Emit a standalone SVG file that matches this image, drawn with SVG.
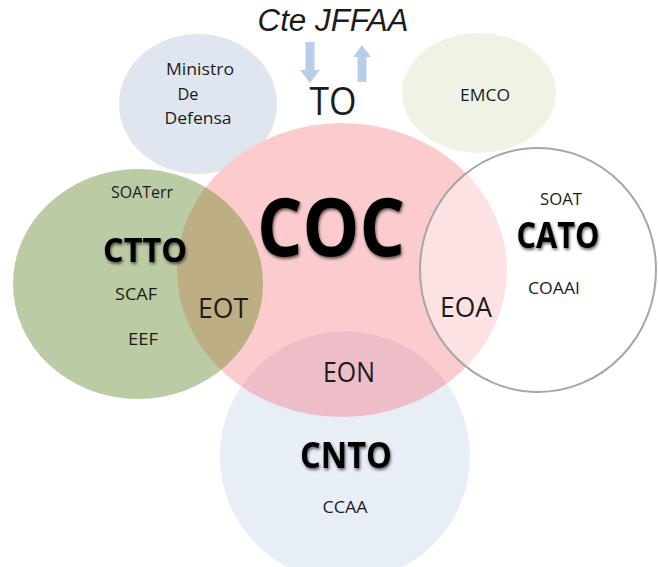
<svg xmlns="http://www.w3.org/2000/svg" xmlns:xlink="http://www.w3.org/1999/xlink" width="658" height="567" viewBox="0 0 658 567">
  <style>
    .t { font-family: "Open Sans", "Liberation Sans", sans-serif; fill: #1c1c1c; text-anchor: middle; }
    .s { font-size: 16px; }
    .m { font-size: 28px; }
    .b { font-weight: bold; fill: #000; filter: url(#shadow); }
    .arrow { fill: #b9cde9; }
  </style>
  <defs>
    <filter id="shadow" x="-20%" y="-30%" width="140%" height="160%">
      <feGaussianBlur in="SourceAlpha" stdDeviation="1.6" result="blur"/>
      <feOffset in="blur" dx="1" dy="1.5" result="off"/>
      <feComponentTransfer in="off" result="sh"><feFuncA type="linear" slope="0.6"/></feComponentTransfer>
      <feMerge><feMergeNode in="sh"/><feMergeNode in="SourceGraphic"/></feMerge>
    </filter>
    <ellipse id="cocE" cx="342" cy="270" rx="165" ry="147"/>
    <clipPath id="clipCtto"><ellipse cx="138" cy="284" rx="125" ry="115"/></clipPath>
    <clipPath id="clipCnto"><ellipse cx="345" cy="456" rx="125" ry="125"/></clipPath>
  </defs>

  <rect x="0" y="0" width="658" height="567" fill="#ffffff"/>

  <g id="node-ministro">
    <ellipse cx="198" cy="104" rx="79" ry="70" fill="#dfe6f0"/>
    <text class="t s" x="200" y="75" textLength="68" lengthAdjust="spacingAndGlyphs">Ministro</text>
    <text class="t s" x="188" y="100" textLength="21" lengthAdjust="spacingAndGlyphs">De</text>
    <text class="t s" x="198" y="124" textLength="67" lengthAdjust="spacingAndGlyphs">Defensa</text>
  </g>

  <g id="node-emco">
    <ellipse cx="479" cy="93" rx="77" ry="60" fill="#eff3e6"/>
    <text class="t s" x="485" y="101" textLength="50" lengthAdjust="spacingAndGlyphs">EMCO</text>
  </g>

  <g id="node-coc">
    <use xlink:href="#cocE" href="#cocE" fill="#fbcbcd"/>
    <text class="t b" x="331" y="256" font-size="80" textLength="148" lengthAdjust="spacingAndGlyphs">COC</text>
  </g>

  <g id="node-ctto">
    <ellipse cx="138" cy="284" rx="125" ry="115" fill="#bbcba4"/>
    <use xlink:href="#cocE" href="#cocE" fill="#beae84" clip-path="url(#clipCtto)"/>
    <text class="t s" x="142" y="198" textLength="62" lengthAdjust="spacingAndGlyphs">SOATerr</text>
    <text class="t b" x="145" y="262" font-size="34" textLength="84" lengthAdjust="spacingAndGlyphs">CTTO</text>
    <text class="t s" x="136" y="300" textLength="42" lengthAdjust="spacingAndGlyphs">SCAF</text>
    <text class="t s" x="143" y="345" textLength="30" lengthAdjust="spacingAndGlyphs">EEF</text>
    <text class="t m" x="223" y="318" textLength="50" lengthAdjust="spacingAndGlyphs">EOT</text>
  </g>

  <g id="node-cnto">
    <ellipse cx="345" cy="456" rx="125" ry="125" fill="#e8eef6"/>
    <use xlink:href="#cocE" href="#cocE" fill="#edbec8" clip-path="url(#clipCnto)"/>
    <text class="t m" x="349" y="382" textLength="52" lengthAdjust="spacingAndGlyphs">EON</text>
    <text class="t b" x="346" y="468" font-size="36" textLength="92" lengthAdjust="spacingAndGlyphs">CNTO</text>
    <text class="t s" x="345" y="513" textLength="45" lengthAdjust="spacingAndGlyphs">CCAA</text>
  </g>

  <g id="node-cato">
    <ellipse cx="538" cy="270" rx="118" ry="122" fill="#ffffff" fill-opacity="0.45" stroke="#a6a6a6" stroke-width="2"/>
    <text class="t s" x="561" y="205" textLength="42" lengthAdjust="spacingAndGlyphs">SOAT</text>
    <text class="t b" x="558" y="248" font-size="35" textLength="83" lengthAdjust="spacingAndGlyphs">CATO</text>
    <text class="t s" x="554" y="294" textLength="52" lengthAdjust="spacingAndGlyphs">COAAI</text>
    <text class="t m" x="466" y="317" textLength="52" lengthAdjust="spacingAndGlyphs">EOA</text>
  </g>

  <g id="node-cte">
    <text class="t" x="333" y="31" font-family="'Liberation Sans', sans-serif" style="font-family: 'Liberation Sans', sans-serif" font-size="31" font-style="italic" textLength="151" lengthAdjust="spacingAndGlyphs">Cte JFFAA</text>
  </g>

  <g id="node-to">
    <text class="t" x="333" y="115" font-size="38" textLength="47" lengthAdjust="spacingAndGlyphs">TO</text>
  </g>

  <g id="connectors">
    <polygon class="arrow" points="305.5,42 314.5,42 314.5,70 320,70 310,83 300,70 305.5,70"/>
    <polygon class="arrow" points="357.5,82 366.5,82 366.5,57 371,57 362,45 353,57 357.5,57"/>
  </g>
</svg>
